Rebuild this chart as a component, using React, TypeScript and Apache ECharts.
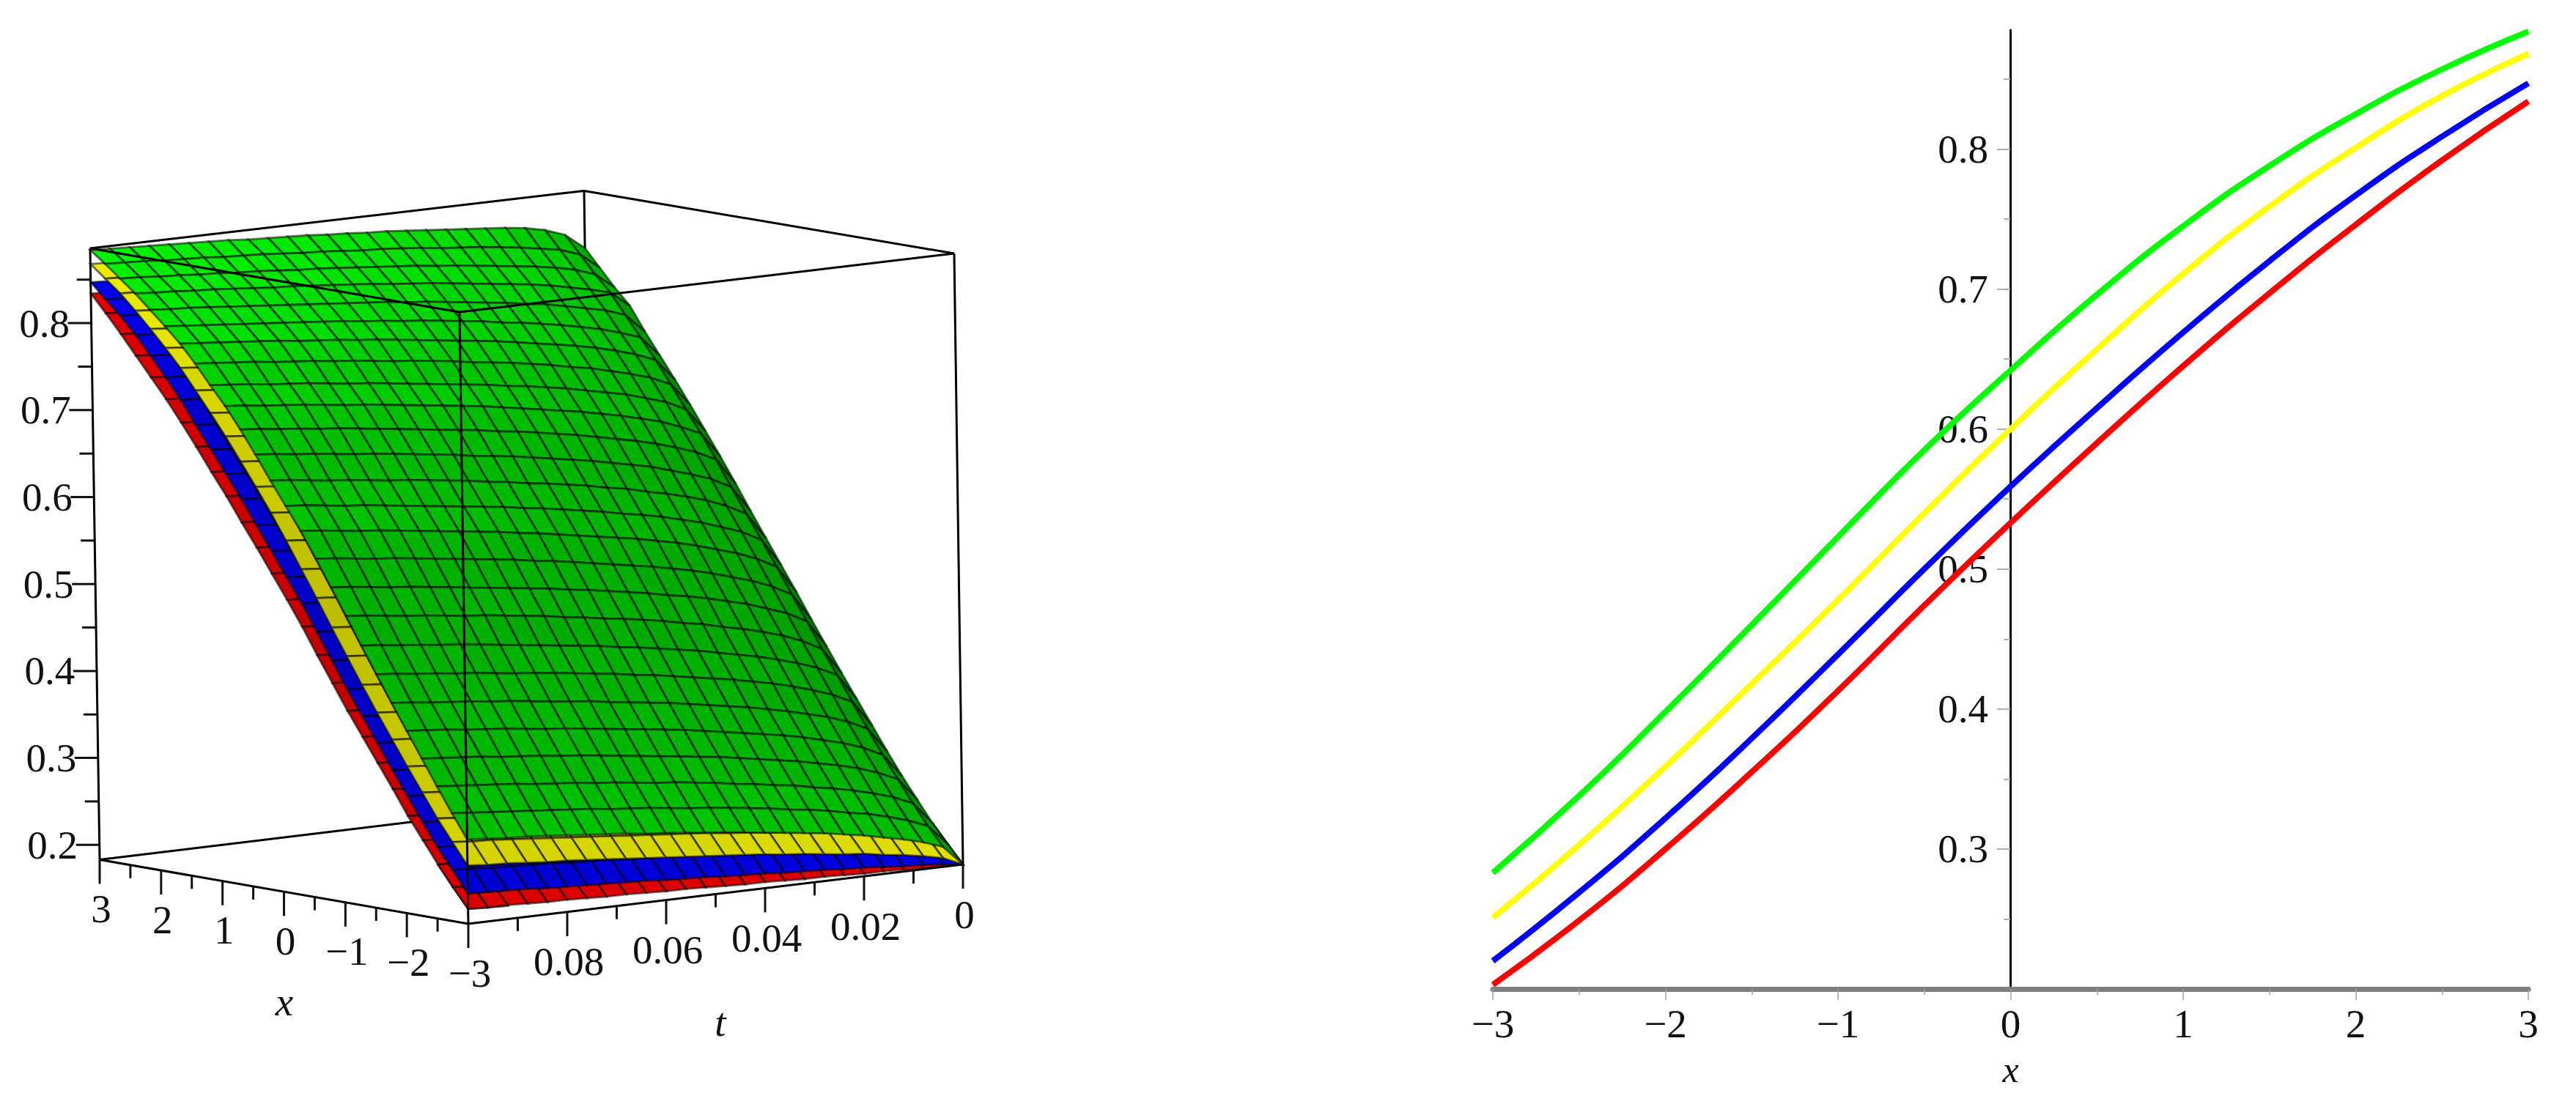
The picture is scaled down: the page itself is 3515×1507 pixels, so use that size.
import React, { useEffect, useRef } from "react";
import * as echarts from "echarts";

// ---------- right panel: curves at t = 0.1 ----------
const curveX = [-3, -2.5, -2, -1.5, -1, -0.5, 0, 0.5, 1, 1.5, 2, 2.5, 3];
const redCurve = [0.203, 0.249, 0.3, 0.355, 0.413, 0.474, 0.533, 0.59, 0.645, 0.697, 0.746, 0.792, 0.834];
const blueCurve = [0.22, 0.269, 0.322, 0.379, 0.439, 0.5, 0.559, 0.615, 0.669, 0.72, 0.767, 0.809, 0.847];
const yellowCurve = [0.251, 0.303, 0.359, 0.418, 0.478, 0.54, 0.6, 0.657, 0.711, 0.759, 0.801, 0.838, 0.868];
const greenCurve = [0.283, 0.338, 0.398, 0.46, 0.523, 0.585, 0.642, 0.696, 0.745, 0.788, 0.825, 0.857, 0.884];
const yMajor = [0.3, 0.4, 0.5, 0.6, 0.7, 0.8];
const yMinor = [0.25, 0.35, 0.45, 0.55, 0.65, 0.75, 0.85];

// ---------- left panel: surface grid ----------
const xGrid = [-3, -2.76, -2.52, -2.28, -2.04, -1.8, -1.56, -1.32, -1.08, -0.84, -0.6, -0.36, -0.12, 0.12, 0.36, 0.6, 0.84, 1.08, 1.32, 1.56, 1.8, 2.04, 2.28, 2.52, 2.76, 3];
const tGrid = [0, 0.004, 0.008, 0.012, 0.016, 0.02, 0.024, 0.028, 0.032, 0.036, 0.04, 0.044, 0.048, 0.052, 0.056, 0.06, 0.064, 0.068, 0.072, 0.076, 0.08, 0.084, 0.088, 0.092, 0.096, 0.1];

// green surface: one row per xGrid value, one column per tGrid value
const greenSurface = [
  [.183,.206,.214,.220,.225,.230,.234,.238,.241,.244,.247,.250,.253,.255,.258,.260,.262,.265,.267,.269,.271,.273,.275,.276,.278,.280],
  [.203,.227,.236,.243,.249,.253,.258,.262,.265,.269,.272,.275,.278,.280,.283,.286,.288,.290,.293,.295,.297,.299,.301,.303,.305,.307],
  [.224,.250,.260,.267,.273,.278,.282,.287,.290,.294,.297,.301,.304,.307,.309,.312,.315,.317,.320,.322,.324,.327,.329,.331,.333,.335],
  [.248,.275,.285,.293,.299,.304,.309,.313,.317,.321,.325,.328,.331,.334,.337,.340,.343,.346,.348,.351,.353,.355,.358,.360,.362,.364],
  [.272,.300,.311,.319,.325,.331,.336,.340,.344,.348,.352,.356,.359,.362,.365,.368,.371,.374,.376,.379,.382,.384,.386,.389,.391,.393],
  [.298,.327,.338,.346,.352,.358,.363,.368,.372,.376,.380,.384,.387,.390,.393,.397,.399,.402,.405,.408,.410,.413,.415,.417,.420,.422],
  [.325,.355,.366,.374,.381,.387,.392,.397,.401,.405,.409,.413,.416,.420,.423,.426,.429,.432,.434,.437,.440,.442,.445,.447,.450,.452],
  [.352,.383,.394,.402,.409,.415,.420,.425,.430,.434,.438,.442,.445,.449,.452,.455,.458,.461,.464,.467,.470,.472,.475,.477,.480,.482],
  [.379,.410,.422,.431,.438,.444,.449,.455,.459,.464,.468,.472,.475,.479,.482,.486,.489,.492,.495,.497,.500,.503,.505,.508,.511,.513],
  [.407,.439,.451,.459,.467,.473,.479,.484,.488,.493,.497,.501,.505,.508,.512,.515,.518,.521,.524,.527,.530,.533,.535,.538,.541,.543],
  [.435,.467,.479,.488,.495,.502,.508,.513,.518,.522,.526,.530,.534,.538,.541,.545,.548,.551,.554,.557,.560,.563,.565,.568,.571,.573],
  [.464,.496,.508,.517,.524,.531,.537,.542,.547,.551,.555,.559,.563,.567,.570,.574,.577,.580,.583,.586,.589,.592,.594,.597,.600,.602],
  [.492,.524,.536,.544,.552,.558,.564,.569,.573,.578,.582,.586,.590,.593,.597,.600,.603,.606,.609,.612,.615,.618,.620,.623,.626,.628],
  [.520,.551,.563,.572,.579,.585,.590,.596,.600,.605,.609,.613,.616,.620,.623,.627,.630,.633,.636,.638,.641,.644,.646,.649,.652,.654],
  [.548,.579,.591,.599,.606,.613,.618,.623,.628,.632,.636,.640,.644,.647,.650,.654,.657,.660,.663,.666,.668,.671,.674,.676,.679,.681],
  [.577,.608,.619,.627,.634,.640,.645,.650,.655,.659,.663,.667,.670,.674,.677,.680,.683,.686,.689,.692,.695,.697,.700,.702,.705,.707],
  [.605,.635,.645,.654,.660,.666,.671,.676,.680,.684,.688,.692,.696,.699,.702,.705,.708,.711,.714,.716,.719,.722,.724,.726,.729,.731],
  [.632,.660,.671,.678,.685,.690,.695,.700,.704,.708,.711,.715,.718,.721,.724,.727,.730,.733,.735,.738,.741,.743,.745,.748,.750,.752],
  [.659,.686,.696,.703,.709,.715,.719,.724,.728,.732,.735,.738,.742,.745,.748,.750,.753,.756,.758,.761,.763,.765,.768,.770,.772,.774],
  [.685,.711,.720,.727,.733,.738,.742,.746,.750,.754,.757,.760,.763,.766,.769,.772,.774,.777,.779,.781,.784,.786,.788,.790,.792,.794],
  [.710,.734,.742,.749,.754,.759,.763,.767,.770,.774,.777,.780,.783,.785,.788,.790,.793,.795,.797,.799,.801,.803,.805,.807,.809,.811],
  [.735,.757,.765,.770,.775,.780,.783,.787,.790,.793,.796,.799,.801,.804,.806,.808,.810,.812,.814,.816,.818,.820,.822,.824,.825,.827],
  [.762,.780,.786,.791,.796,.800,.803,.806,.809,.812,.815,.817,.819,.822,.824,.826,.828,.830,.831,.833,.835,.837,.838,.840,.841,.843],
  [.780,.798,.806,.811,.815,.818,.821,.824,.827,.829,.832,.834,.836,.838,.840,.842,.843,.845,.847,.848,.850,.851,.853,.854,.856,.857],
  [.800,.818,.826,.830,.834,.837,.840,.842,.844,.847,.849,.851,.852,.854,.856,.857,.859,.861,.862,.863,.865,.866,.867,.869,.870,.871],
  [.820,.838,.846,.851,.854,.856,.858,.860,.862,.864,.866,.867,.869,.870,.872,.873,.874,.875,.877,.878,.879,.880,.881,.882,.883,.884],
];

// visible bands of the hidden surfaces. "Front": x = -3, -2.76, -2.52 against tGrid. "Side": t = .092, .096, .1 against xGrid.
const yellowFront = [
  [.183,.193,.198,.202,.205,.209,.211,.214,.217,.219,.222,.224,.226,.228,.230,.232,.234,.236,.238,.240,.242,.243,.245,.247,.248,.250],
  [.203,.213,.219,.223,.227,.230,.233,.236,.239,.241,.244,.246,.249,.251,.253,.255,.257,.259,.261,.263,.265,.267,.269,.271,.272,.274],
  [.224,.235,.240,.245,.249,.252,.255,.258,.261,.264,.267,.269,.272,.274,.276,.278,.281,.283,.285,.287,.289,.291,.293,.294,.296,.298],
];
const blueFront = [
  [.183,.186,.188,.189,.191,.193,.194,.196,.197,.198,.200,.201,.202,.204,.205,.206,.208,.209,.210,.211,.212,.213,.215,.216,.217,.218],
  [.203,.206,.208,.210,.212,.214,.215,.217,.219,.220,.222,.223,.225,.226,.228,.229,.230,.232,.233,.234,.236,.237,.238,.239,.241,.242],
  [.224,.227,.229,.232,.233,.235,.237,.239,.240,.242,.244,.245,.247,.248,.250,.251,.253,.254,.256,.257,.258,.260,.261,.262,.264,.265],
];
const redFront = [
  [.183,.184,.184,.185,.186,.186,.187,.188,.188,.189,.190,.190,.191,.192,.193,.193,.194,.195,.195,.196,.197,.197,.198,.199,.199,.200],
  [.203,.204,.205,.205,.206,.207,.208,.208,.209,.210,.211,.211,.212,.213,.214,.214,.215,.216,.217,.217,.218,.219,.220,.220,.221,.222],
  [.224,.225,.226,.227,.227,.228,.229,.230,.231,.232,.232,.233,.234,.235,.236,.237,.237,.238,.239,.240,.241,.242,.243,.243,.244,.245],
];
const yellowSide = [
  [.247,.270,.294,.321,.348,.376,.404,.433,.463,.493,.523,.553,.583,.612,.639,.665,.692,.716,.739,.762,.782,.802,.820,.837,.852,.866],
  [.248,.272,.296,.323,.350,.378,.406,.435,.465,.495,.526,.556,.586,.615,.642,.668,.694,.718,.741,.764,.784,.803,.821,.839,.853,.867],
  [.250,.274,.298,.325,.352,.380,.408,.437,.467,.497,.528,.558,.588,.617,.644,.670,.696,.720,.743,.766,.786,.805,.823,.840,.854,.868],
];
const blueSide = [
  [.216,.239,.262,.288,.315,.342,.370,.398,.426,.456,.486,.516,.543,.570,.597,.624,.650,.675,.701,.727,.750,.772,.793,.812,.828,.845],
  [.217,.240,.263,.289,.316,.343,.371,.399,.427,.457,.487,.517,.544,.571,.598,.625,.651,.676,.702,.728,.751,.773,.794,.813,.829,.846],
  [.218,.242,.265,.291,.318,.345,.373,.401,.429,.459,.489,.519,.546,.573,.600,.627,.653,.678,.703,.729,.752,.774,.795,.814,.830,.847],
];
const redSide = [
  [.198,.220,.243,.268,.293,.321,.348,.375,.402,.431,.460,.490,.518,.545,.572,.598,.625,.650,.676,.701,.725,.747,.769,.791,.812,.832],
  [.199,.221,.244,.269,.294,.322,.349,.376,.403,.432,.461,.491,.519,.546,.573,.599,.626,.651,.677,.702,.726,.748,.770,.792,.813,.833],
  [.200,.222,.245,.270,.295,.323,.350,.377,.404,.433,.462,.492,.520,.547,.574,.600,.627,.652,.678,.703,.727,.749,.771,.793,.814,.834],
];

// 3D axis extents and tick values
const zMin = 0.183;
const zMax = 0.886;
const zMajorTicks = [0.2, 0.3, 0.4, 0.5, 0.6, 0.7, 0.8];
const zMajorLabels = ["0.2", "0.3", "0.4", "0.5", "0.6", "0.7", "0.8"];
const zMinorTicks = [0.25, 0.35, 0.45, 0.55, 0.65, 0.75, 0.85];
const xMajorTicks = [3, 2, 1, 0, -1, -2, -3];
const xMajorLabels = ["3", "2", "1", "0", "−1", "−2", "−3"];
const xMinorTicks = [2.5, 1.5, 0.5, -0.5, -1.5, -2.5];
const tMajorTicks = [0.08, 0.06, 0.04, 0.02, 0];
const tMajorLabels = ["0.08", "0.06", "0.04", "0.02", "0"];
const tMinorTicks = [0.09, 0.07, 0.05, 0.03, 0.01];

// screen positions of the eight box corners (the view of the 3D plot)
const FLOOR = { bf: [639, 1261], bl: [136, 1173.5], br: [1314, 1180], bk: [809, 1092] };
const ROOF = { bf: [627, 426], bl: [123, 339], br: [1302, 346], bk: [797, 260.5] };

function project(x: number, t: number, z: number): [number, number] {
  const s = (x + 3) / 6;
  const u = t / 0.1;
  const v = (z - zMin) / (zMax - zMin);
  const mix = (c: any, k: number) =>
    (1 - s) * (u * c.bf[k] + (1 - u) * c.br[k]) + s * (u * c.bl[k] + (1 - u) * c.bk[k]);
  return [
    (1 - v) * mix(FLOOR, 0) + v * mix(ROOF, 0),
    (1 - v) * mix(FLOOR, 1) + v * mix(ROOF, 1),
  ];
}

function clamp(a: number, lo: number, hi: number) {
  return Math.max(lo, Math.min(hi, a));
}

// shade of one cell from its slopes, as in the lit Maple surface
function shadeOf(z00: number, z01: number, z10: number, z11: number) {
  const dzds = ((z10 + z11) / 2 - (z00 + z01) / 2) * 25;
  const dzdu = Math.max(0, ((z01 + z11) / 2 - (z00 + z10) / 2) * 25);
  return clamp((262 - (dzds - 0.3) * 135 - 95 * Math.sqrt(dzdu)) / 255, 0.5, 0.95);
}

function greenCells() {
  const out: number[][] = [];
  for (let i = xGrid.length - 2; i >= 0; i--) {
    for (let j = 0; j < tGrid.length - 1; j++) {
      const a = greenSurface[i][j], b = greenSurface[i][j + 1], c = greenSurface[i + 1][j], d = greenSurface[i + 1][j + 1];
      out.push([xGrid[i], xGrid[i + 1], tGrid[j], tGrid[j + 1], a, b, c, d, shadeOf(a, b, c, d)]);
    }
  }
  return out;
}

function bandShade(a: number, b: number, c: number, d: number) {
  const dzds = ((c + d) / 2 - (a + b) / 2) * 25;
  return clamp(0.98 - (dzds - 0.3) * 0.5, 0.7, 0.92);
}

function bandCells(front: number[][], side: number[][]) {
  const out: number[][] = [];
  for (let i = xGrid.length - 2; i >= 0; i--) {
    for (let k = 0; k < side.length - 1; k++) {
      const j = tGrid.length - side.length + k;
      const a = side[k][i], b = side[k + 1][i], c = side[k][i + 1], d = side[k + 1][i + 1];
      out.push([xGrid[i], xGrid[i + 1], tGrid[j], tGrid[j + 1], a, b, c, d, bandShade(a, b, c, d)]);
    }
  }
  for (let i = front.length - 2; i >= 0; i--) {
    for (let j = 0; j < tGrid.length - 1; j++) {
      const a = front[i][j], b = front[i][j + 1], c = front[i + 1][j], d = front[i + 1][j + 1];
      out.push([xGrid[i], xGrid[i + 1], tGrid[j], tGrid[j + 1], a, b, c, d, bandShade(a, b, c, d)]);
    }
  }
  return out;
}

function cellSeries(name: string, rgb: number[], cells: number[][], z: number, stroke: string) {
  return {
    type: "custom",
    name,
    coordinateSystem: "none",
    silent: true,
    z,
    progressive: 0,
    data: cells,
    renderItem: (_p: any, api: any) => {
      const x0 = api.value(0), x1 = api.value(1), t0 = api.value(2), t1 = api.value(3);
      const s = api.value(8);
      const c = rgb.map((k) => Math.round(k * s));
      return {
        type: "polygon",
        shape: {
          points: [
            project(x0, t0, api.value(4)),
            project(x0, t1, api.value(5)),
            project(x1, t1, api.value(7)),
            project(x1, t0, api.value(6)),
          ],
        },
        style: { fill: `rgb(${c[0]},${c[1]},${c[2]})`, stroke, lineWidth: 2.8 },
      };
    },
  };
}

function lineSeries(segments: number[][], z: number) {
  return {
    type: "custom",
    coordinateSystem: "none",
    silent: true,
    z,
    progressive: 0,
    data: segments,
    renderItem: (_p: any, api: any) => {
      const a = project(api.value(0), api.value(1), api.value(2));
      const b = project(api.value(3), api.value(4), api.value(5));
      return {
        type: "line",
        shape: { x1: a[0], y1: a[1], x2: b[0], y2: b[1] },
        style: { stroke: "#000", lineWidth: 3 },
      };
    },
  };
}

function tickSeries(points: number[][], dx: number, dy: number, z: number, width: number) {
  return {
    type: "custom",
    coordinateSystem: "none",
    silent: true,
    z,
    progressive: 0,
    data: points,
    renderItem: (_p: any, api: any) => {
      const a = project(api.value(0), api.value(1), api.value(2));
      return {
        type: "line",
        shape: { x1: a[0], y1: a[1], x2: a[0] + dx, y2: a[1] + dy },
        style: { stroke: "#111", lineWidth: width },
      };
    },
  };
}

function labelSeries(points: number[][], labels: string[], dx: number, dy: number, z: number) {
  return {
    type: "custom",
    coordinateSystem: "none",
    silent: true,
    z,
    progressive: 0,
    data: points,
    renderItem: (p: any, api: any) => {
      const a = project(api.value(0), api.value(1), api.value(2));
      return {
        type: "text",
        style: {
          text: labels[p.dataIndex],
          x: a[0] + dx,
          y: a[1] + dy,
          align: "center",
          verticalAlign: "middle",
          fontSize: 55,
          fontFamily: "Liberation Serif",
          fill: "#111",
        },
      };
    },
  };
}

function nameSeries(text: string, x: number, y: number) {
  return {
    type: "custom",
    coordinateSystem: "none",
    silent: true,
    z: 20,
    data: [[0]],
    renderItem: () => ({
      type: "text",
      style: {
        text,
        x,
        y,
        align: "center",
        verticalAlign: "middle",
        fontSize: 55,
        fontStyle: "italic",
        fontFamily: "Liberation Serif",
        fill: "#111",
      },
    }),
  };
}

function curve(color: string, values: number[]) {
  return {
    type: "line",
    data: curveX.map((x, i) => [x, values[i]]),
    smooth: 0.5,
    showSymbol: false,
    clip: false,
    silent: true,
    z: 5,
    lineStyle: { color, width: 8, cap: "butt" },
  };
}

const TICK = "#b0b0b0";
const LABEL_FONT = { fontFamily: "Liberation Serif", fontSize: 55, color: "#111" };
const Y_AXIS_SHIFT = -706; // moves the left axis from x = -3 to x = 0

function buildOption() {
  const xT = 3, tFront = 0.1, xFront = -3, tBack = 0;
  const backLines = [
    [xT, tFront, zMax, xT, tBack, zMax],
    [xT, tBack, zMax, xFront, tBack, zMax],
    [xT, tBack, zMax, xT, tBack, zMin],
    [xT, tFront, zMin, xT, tBack, zMin],
    [xFront, tBack, zMin, xT, tBack, zMin],
  ];
  const frontLines = [
    [xT, tFront, zMax, xFront, tFront, zMax],
    [xFront, tFront, zMax, xFront, tBack, zMax],
    [xFront, tFront, zMax, xFront, tFront, zMin],
    [xT, tFront, zMax, xT, tFront, zMin],
    [xFront, tBack, zMax, xFront, tBack, zMin],
    [xT, tFront, zMin, xFront, tFront, zMin],
    [xFront, tFront, zMin, xFront, tBack, zMin],
  ];
  const zMajorPts = zMajorTicks.map((z) => [xT, tFront, z]);
  const zMinorPts = zMinorTicks.map((z) => [xT, tFront, z]);
  const xMajorPts = xMajorTicks.map((x) => [x, tFront, zMin]);
  const xMinorPts = xMinorTicks.map((x) => [x, tFront, zMin]);
  const tMajorPts = tMajorTicks.map((t) => [xFront, t, zMin]);
  const tMinorPts = tMinorTicks.map((t) => [xFront, t, zMin]);
  const cellStroke = "rgba(0,0,0,0.55)";

  return {
    animation: false,
    backgroundColor: "#fff",
    grid: { left: 2037, right: 65, top: 41, bottom: 157, containLabel: false },
    xAxis: {
      type: "value",
      min: -3,
      max: 3,
      interval: 1,
      name: "x",
      nameLocation: "middle",
      nameGap: 85,
      nameTextStyle: { fontFamily: "Liberation Serif", fontStyle: "italic", fontSize: 50, color: "#111" },
      splitLine: { show: false },
      axisLine: { lineStyle: { color: "#808080", width: 7 } },
      axisTick: { length: 15, lineStyle: { color: "#a0a0a0", width: 1.5 } },
      minorTick: { show: true, splitNumber: 2, length: 8, lineStyle: { color: "#a0a0a0", width: 1.5 } },
      minorSplitLine: { show: false },
      axisLabel: {
        ...LABEL_FONT,
        margin: 20,
        formatter: (v: number) => (v < 0 ? "−" + Math.abs(v) : String(v)),
      },
    },
    yAxis: [
      {
        type: "value",
        position: "left",
        offset: Y_AXIS_SHIFT,
        min: 0.2,
        max: 0.885,
        interval: 0.1,
        splitLine: { show: false },
        axisLine: { onZero: false, lineStyle: { color: "#000", width: 3 } },
        axisTick: { length: 18, customValues: yMajor, lineStyle: { color: TICK, width: 2 } },
        axisLabel: { ...LABEL_FONT, margin: 30, customValues: yMajor, formatter: (v: number) => v.toFixed(1) },
      },
      {
        type: "value",
        position: "left",
        offset: Y_AXIS_SHIFT,
        min: 0.2,
        max: 0.885,
        interval: 0.1,
        splitLine: { show: false },
        axisLine: { show: false, onZero: false },
        axisTick: { length: 9, customValues: yMinor, lineStyle: { color: TICK, width: 2 } },
        axisLabel: { show: false },
      },
    ],
    series: [
      lineSeries(backLines, 1),
      cellSeries("red", [255, 0, 0], bandCells(redFront, redSide), 2, cellStroke),
      cellSeries("blue", [0, 0, 255], bandCells(blueFront, blueSide), 3, cellStroke),
      cellSeries("yellow", [255, 255, 0], bandCells(yellowFront, yellowSide), 4, cellStroke),
      cellSeries("green", [0, 255, 0], greenCells(), 5, cellStroke),
      lineSeries(frontLines, 10),
      tickSeries(zMajorPts, -32, 0, 11, 3),
      tickSeries(zMinorPts, -19, 0, 11, 3),
      tickSeries(xMajorPts, 0, 33, 11, 3),
      tickSeries(xMinorPts, 0, 18, 11, 3),
      tickSeries(tMajorPts, 0, 33, 11, 3),
      tickSeries(tMinorPts, 0, 18, 11, 3),
      labelSeries(zMajorPts, zMajorLabels, -64, 0, 12),
      labelSeries(xMajorPts, xMajorLabels, 2, 67, 12),
      labelSeries(tMajorPts, tMajorLabels, 2, 68, 12),
      nameSeries("x", 388, 1367),
      nameSeries("t", 983, 1395),
      curve("#ff0000", redCurve),
      curve("#0000ff", blueCurve),
      curve("#ffff00", yellowCurve),
      curve("#00ff00", greenCurve),
    ],
  };
}

export default function App() {
  const ref = useRef<HTMLDivElement>(null);
  useEffect(() => {
    document.body.style.margin = "0";
    const chart = echarts.init(ref.current!, undefined, { renderer: "svg" });
    chart.setOption(buildOption() as any);
    return () => chart.dispose();
  }, []);
  return <div ref={ref} style={{ width: 3515, height: 1507, background: "#fff" }} />;
}
